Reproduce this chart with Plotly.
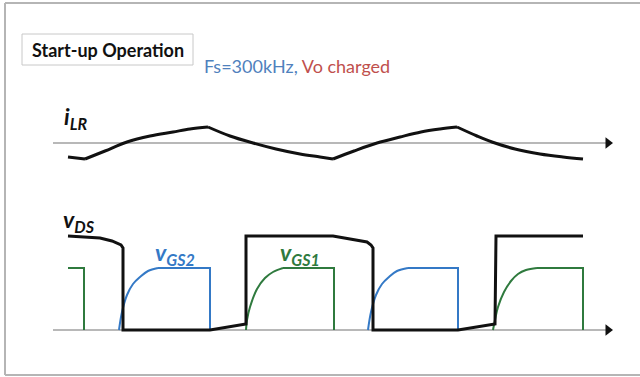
import plotly.graph_objects as go

# ---- waveform data (in diagram units) ----
ilr_t = [68, 85, None,
         85, 105, 127, 150, 173, 190, 208, None,
         208, 230, 253, 276, 300, 320, 333, None,
         333, 354, 377, 400, 421, 440, 457, None,
         457, 477, 492, 515, 540, 563, 583]
ilr_v = [157, 159, None,
         159, 151, 142, 136, 132, 129, 127, None,
         127, 136, 143, 149, 154, 157, 159, None,
         159, 151, 143, 137, 132, 129, 127, None,
         127, 136, 142, 149, 154, 157, 159]

vds_t = [68, 100, 112, 117, 121, 123, 123, 210, 246, 246, 333, 367, 371, 373, 373, 458, 495, 496, 583]
vds_v = [236, 238, 241, 243, 245, 248, 330, 330, 324, 236, 236, 242, 245, 248, 330, 330, 324, 236, 236]

vgs1_rise_t = [246, 247, 250, 257, 265, 273, 283, None,
               493, 495, 498, 504, 511, 518, 526, 537]
vgs1_rise_v = [330, 320, 307, 289, 278, 272, 268, None,
               330, 320, 307, 292, 281, 274, 270, 268]
vgs1_flat_t = [68, 84, 84, None, 283, 334, 334, None, 537, 583, 583]
vgs1_flat_v = [268, 268, 330, None, 268, 268, 330, None, 268, 268, 330]

vgs2_rise_t = [119, 122, 127, 133, 140, 148, 158, None,
               368, 371, 376, 382, 389, 397, 408]
vgs2_rise_v = [330, 312, 295, 284, 277, 271, 268, None,
               330, 312, 295, 284, 277, 271, 268]
vgs2_flat_t = [158, 210, 210, None, 408, 458, 458]
vgs2_flat_v = [268, 268, 330, None, 268, 268, 330]

axis_t = [53, 606]
ilr_axis_v = 143
vds_axis_v = 330

title_text = "Start-up Operation"
cond_fs = "Fs=300kHz, "
cond_vo = "Vo charged"

BLACK = "#111111"
GREEN = "#2f7a3e"
BLUE = "#3479c6"
GRAY = "#a0a0a0"
FONT = "Lato"

fig = go.Figure()

# axes (gray lines)
for yv in (ilr_axis_v, vds_axis_v):
    fig.add_trace(go.Scatter(x=axis_t, y=[yv, yv], mode="lines",
                             line=dict(color=GRAY, width=1.5), hoverinfo="skip"))
    fig.add_trace(go.Scatter(x=[axis_t[1] + 2], y=[yv], mode="markers",
                             marker=dict(symbol="triangle-right", size=10, color=BLACK),
                             hoverinfo="skip"))

# gate waveforms
fig.add_trace(go.Scatter(x=vgs1_flat_t, y=vgs1_flat_v, mode="lines",
                         line=dict(color=GREEN, width=2)))
fig.add_trace(go.Scatter(x=vgs1_rise_t, y=vgs1_rise_v, mode="lines",
                         line=dict(color=GREEN, width=2, shape="spline", smoothing=1)))
fig.add_trace(go.Scatter(x=vgs2_flat_t, y=vgs2_flat_v, mode="lines",
                         line=dict(color=BLUE, width=2)))
fig.add_trace(go.Scatter(x=vgs2_rise_t, y=vgs2_rise_v, mode="lines",
                         line=dict(color=BLUE, width=2, shape="spline", smoothing=1)))

# vDS and iLR
fig.add_trace(go.Scatter(x=vds_t, y=vds_v, mode="lines",
                         line=dict(color=BLACK, width=3)))
fig.add_trace(go.Scatter(x=ilr_t, y=ilr_v, mode="lines",
                         line=dict(color=BLACK, width=3, shape="spline", smoothing=1)))

# frame and title box
fig.add_shape(type="line", x0=5, x1=5, y0=3, y1=375, line=dict(color="#b5b5b5", width=2))
fig.add_shape(type="line", x0=5, x1=640, y0=3, y1=3, line=dict(color="#b5b5b5", width=2))
fig.add_shape(type="line", x0=5, x1=640, y0=375, y1=375, line=dict(color="#b5b5b5", width=2))
fig.add_shape(type="rect", x0=22, x1=193, y0=34, y1=65, line=dict(color="#c8c8c8", width=1))

fig.add_annotation(x=107.5, y=50, text="<b>%s</b>" % title_text, showarrow=False,
                   xanchor="center", yanchor="middle",
                   font=dict(family=FONT, size=18, color=BLACK))
fig.add_annotation(x=202, y=66, showarrow=False, xanchor="left", yanchor="middle",
                   text='<span style="color:#4f81bd">%s</span><span style="color:#c0504d">%s</span>' % (cond_fs, cond_vo),
                   font=dict(family=FONT, size=18))

def label(x, y, main, sub, color):
    fig.add_annotation(x=x, y=y, showarrow=False, xanchor="left", yanchor="middle",
                       text="<b><i>%s</i></b><sub><b><i>%s</i></b></sub>" % (main, sub),
                       font=dict(family=FONT, size=23, color=color))

label(62, 117, "i", "LR", BLACK)
label(61, 220, "v", "DS", BLACK)
label(153, 253, "v", "GS2", BLUE)
label(278, 253, "v", "GS1", GREEN)

fig.update_layout(
    width=640, height=377, margin=dict(l=0, r=0, t=0, b=0),
    paper_bgcolor="white", plot_bgcolor="white", showlegend=False,
    xaxis=dict(range=[0, 640], visible=False, fixedrange=True),
    yaxis=dict(range=[377, 0], visible=False, fixedrange=True),
)
fig.write_html("out.html")
